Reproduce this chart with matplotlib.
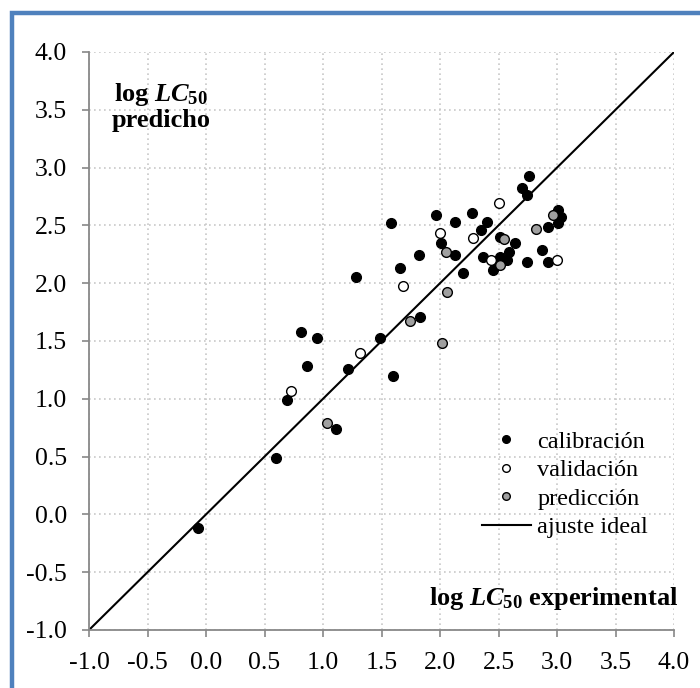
import matplotlib
matplotlib.use("Agg")
import matplotlib.pyplot as plt
from matplotlib.patches import Rectangle
from matplotlib.lines import Line2D

plt.rcParams['font.family'] = ['Liberation Serif', 'DejaVu Serif']
plt.rcParams['mathtext.fontset'] = 'custom'
plt.rcParams['mathtext.rm'] = 'Liberation Serif:bold'
plt.rcParams['mathtext.it'] = 'Liberation Serif:italic:bold'
plt.rcParams['mathtext.bf'] = 'Liberation Serif:bold'

# calibration (black)
cal_x = [-0.07, 0.60, 0.69, 1.11, 1.58, 1.97, 2.01, 1.82, 1.66, 1.28, 1.83, 0.81, 0.95,
         1.49, 0.86, 1.21, 1.60, 2.76, 2.70, 2.74, 2.27, 2.13, 2.40, 2.35, 2.13, 2.51,
         2.64, 2.59, 2.37, 2.51, 2.57, 2.45, 2.20, 2.74, 2.87, 2.92, 2.92, 3.01, 3.03, 3.01]
cal_y = [-0.12, 0.49, 0.99, 0.74, 2.52, 2.59, 2.35, 2.24, 2.13, 2.05, 1.71, 1.58, 1.53,
         1.53, 1.28, 1.26, 1.20, 2.93, 2.82, 2.76, 2.61, 2.53, 2.53, 2.46, 2.24, 2.40,
         2.35, 2.27, 2.23, 2.23, 2.20, 2.11, 2.09, 2.18, 2.29, 2.18, 2.49, 2.63, 2.57, 2.52]
# validation (white)
val_x = [0.73, 1.32, 1.68, 2.00, 2.28, 2.50, 2.44, 3.00]
val_y = [1.07, 1.40, 1.98, 2.43, 2.39, 2.69, 2.20, 2.20]
# prediction (gray)
pred_x = [1.03, 1.74, 2.02, 2.05, 2.06, 2.55, 2.51, 2.82, 2.97]
pred_y = [0.79, 1.67, 1.48, 2.27, 1.92, 2.38, 2.16, 2.47, 2.59]

ideal = [-1.0, 4.0]
ticks = [-1.0, -0.5, 0.0, 0.5, 1.0, 1.5, 2.0, 2.5, 3.0, 3.5, 4.0]
tick_labels = ['%.1f' % t for t in ticks]
legend_labels = ['calibración', 'validación', 'predicción', 'ajuste ideal']

fig = plt.figure(figsize=(7.0, 6.88), dpi=100)
fig.patch.set_facecolor('white')
ax = fig.add_axes([89/700, 1-630/688, (674-89)/700, (630-52)/688])

ax.plot(ideal, ideal, color='black', lw=1.5, zorder=2)
ms = 7.0
ax.plot(cal_x, cal_y, 'o', ms=ms, mfc='black', mec='black', mew=1.0, zorder=3)
ax.plot(val_x, val_y, 'o', ms=ms, mfc='white', mec='black', mew=1.0, zorder=3)
ax.plot(pred_x, pred_y, 'o', ms=ms, mfc='#a0a0a0', mec='black', mew=1.0, zorder=3)

ax.set_xlim(-1.0, 4.0)
ax.set_ylim(-1.0, 4.0)
ax.set_xticks(ticks)
ax.set_yticks(ticks)
ax.set_xticklabels(tick_labels)
ax.set_yticklabels(tick_labels)
ax.tick_params(axis='both', direction='out', length=5, width=1.2, color='#888888',
               labelsize=18.5, labelcolor='black', pad=11)
ax.grid(True, linestyle=(0, (1, 2)), color='#c8c8c8', lw=1.2)
ax.set_axisbelow(True)
for s in ['top', 'right']:
    ax.spines[s].set_visible(False)
for s in ['left', 'bottom']:
    ax.spines[s].set_color('#888888')
    ax.spines[s].set_linewidth(1.3)

ax.text(-0.385, 3.53, 'log $LC_{50}$\npredicho', ha='center', va='center',
        fontsize=19, fontweight='bold', linespacing=1.05)
ax.text(1.007, 0.055, 'log $LC_{50}$ experimental', transform=ax.transAxes,
        ha='right', va='center', fontsize=19, fontweight='bold')

handles = [
    Line2D([], [], ls='none', marker='o', ms=5.5, mfc='black', mec='black'),
    Line2D([], [], ls='none', marker='o', ms=5.5, mfc='white', mec='black'),
    Line2D([], [], ls='none', marker='o', ms=5.5, mfc='#a0a0a0', mec='black'),
    Line2D([], [], color='black', lw=1.5),
]
ax.legend(handles, legend_labels, loc='upper left', bbox_to_anchor=(0.671, 0.345),
          frameon=False, fontsize=17.5, handlelength=2.05, handletextpad=0.25,
          labelspacing=0.27, borderpad=0, borderaxespad=0)

fig.patches.append(Rectangle((12/700, -0.05), 1.2, (688-13)/688 + 0.05,
                             transform=fig.transFigure, fill=False,
                             edgecolor='#4f81bd', lw=3.2, zorder=10))

fig.savefig('out.png', dpi=100)
